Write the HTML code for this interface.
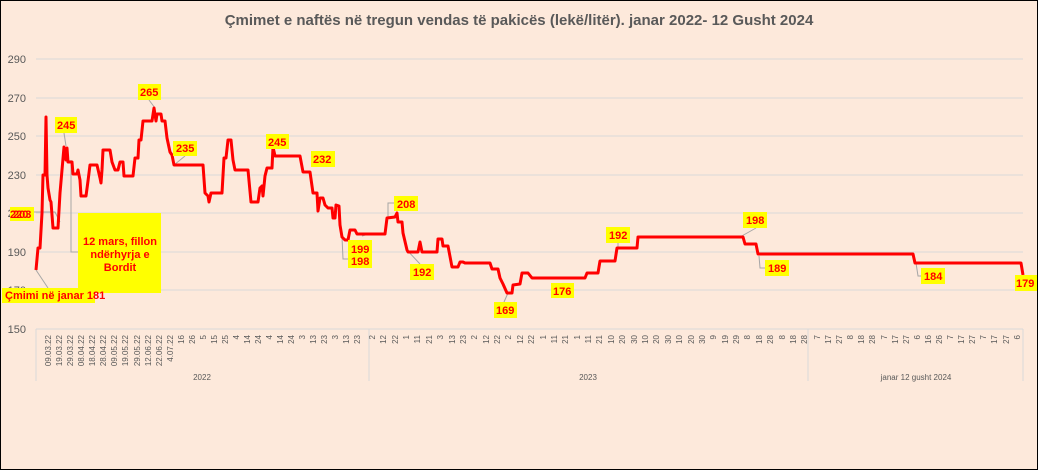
<!DOCTYPE html>
<html><head><meta charset="utf-8"><style>
html,body{margin:0;padding:0;background:#fde9db}
svg{display:block}
text{font-family:"Liberation Sans",sans-serif}
.t{font-size:8px;fill:#595959}
.y{font-size:11px;fill:#595959}
.l{font-size:11px;font-weight:bold;fill:#ff0000}
.b{fill:#ffff00}
</style></head><body>
<svg width="1038" height="470" viewBox="0 0 1038 470" xmlns="http://www.w3.org/2000/svg">
<rect x="0.5" y="0.5" width="1037" height="469" fill="#fde9db" stroke="#000" stroke-width="1"/>
<text x="519" y="25" text-anchor="middle" style="font-size:15px;font-weight:bold;fill:#595959">Çmimet e naftës në tregun vendas të pakicës (lekë/litër). janar 2022- 12 Gusht 2024</text>
<g stroke="#d9d9d9" stroke-width="1">
<line x1="36" y1="59" x2="1023" y2="59"/><line x1="36" y1="98" x2="1023" y2="98"/>
<line x1="36" y1="136" x2="1023" y2="136"/><line x1="36" y1="175" x2="1023" y2="175"/>
<line x1="36" y1="213" x2="1023" y2="213"/><line x1="36" y1="252" x2="1023" y2="252"/>
<line x1="36" y1="290" x2="1023" y2="290"/><line x1="36" y1="329" x2="1023" y2="329"/>
<line x1="36" y1="329" x2="36" y2="381"/><line x1="369" y1="329" x2="369" y2="381"/>
<line x1="808" y1="329" x2="808" y2="381"/><line x1="1023" y1="329" x2="1023" y2="381"/>
</g>
<g class="y" text-anchor="end">
<text x="26" y="63">290</text><text x="26" y="102">270</text><text x="26" y="140">250</text>
<text x="26" y="179">230</text><text x="26" y="217">210</text><text x="26" y="256">190</text>
<text x="26" y="294">170</text><text x="26" y="333">150</text>
</g>
<g class="t" text-anchor="end">
<text transform="translate(51,335) rotate(-90)">09.03.22</text>
<text transform="translate(62,335) rotate(-90)">19.03.22</text>
<text transform="translate(73,335) rotate(-90)">29.03.22</text>
<text transform="translate(84,335) rotate(-90)">08.04.22</text>
<text transform="translate(95,335) rotate(-90)">18.04.22</text>
<text transform="translate(106,335) rotate(-90)">28.04.22</text>
<text transform="translate(117,335) rotate(-90)">09.05.22</text>
<text transform="translate(128,335) rotate(-90)">19.05.22</text>
<text transform="translate(140,335) rotate(-90)">29.05.22</text>
<text transform="translate(151,335) rotate(-90)">12.06.22</text>
<text transform="translate(162,335) rotate(-90)">22.06.22</text>
<text transform="translate(173,335) rotate(-90)">4.07.22</text>
<text transform="translate(184,335) rotate(-90)">16</text>
<text transform="translate(195,335) rotate(-90)">26</text>
<text transform="translate(206,335) rotate(-90)">5</text>
<text transform="translate(217,335) rotate(-90)">15</text>
<text transform="translate(228,335) rotate(-90)">25</text>
<text transform="translate(239,335) rotate(-90)">4</text>
<text transform="translate(250,335) rotate(-90)">14</text>
<text transform="translate(261,335) rotate(-90)">24</text>
<text transform="translate(272,335) rotate(-90)">4</text>
<text transform="translate(283,335) rotate(-90)">14</text>
<text transform="translate(294,335) rotate(-90)">24</text>
<text transform="translate(305,335) rotate(-90)">3</text>
<text transform="translate(316,335) rotate(-90)">13</text>
<text transform="translate(327,335) rotate(-90)">23</text>
<text transform="translate(338,335) rotate(-90)">3</text>
<text transform="translate(349,335) rotate(-90)">13</text>
<text transform="translate(360,335) rotate(-90)">23</text>
<text transform="translate(375,335) rotate(-90)">2</text>
<text transform="translate(386,335) rotate(-90)">12</text>
<text transform="translate(398,335) rotate(-90)">22</text>
<text transform="translate(409,335) rotate(-90)">1</text>
<text transform="translate(420,335) rotate(-90)">11</text>
<text transform="translate(432,335) rotate(-90)">21</text>
<text transform="translate(443,335) rotate(-90)">3</text>
<text transform="translate(455,335) rotate(-90)">13</text>
<text transform="translate(466,335) rotate(-90)">23</text>
<text transform="translate(477,335) rotate(-90)">2</text>
<text transform="translate(489,335) rotate(-90)">12</text>
<text transform="translate(500,335) rotate(-90)">22</text>
<text transform="translate(511,335) rotate(-90)">2</text>
<text transform="translate(523,335) rotate(-90)">12</text>
<text transform="translate(534,335) rotate(-90)">22</text>
<text transform="translate(546,335) rotate(-90)">1</text>
<text transform="translate(557,335) rotate(-90)">11</text>
<text transform="translate(568,335) rotate(-90)">21</text>
<text transform="translate(580,335) rotate(-90)">1</text>
<text transform="translate(591,335) rotate(-90)">11</text>
<text transform="translate(602,335) rotate(-90)">21</text>
<text transform="translate(614,335) rotate(-90)">10</text>
<text transform="translate(625,335) rotate(-90)">20</text>
<text transform="translate(637,335) rotate(-90)">30</text>
<text transform="translate(648,335) rotate(-90)">10</text>
<text transform="translate(659,335) rotate(-90)">20</text>
<text transform="translate(671,335) rotate(-90)">30</text>
<text transform="translate(682,335) rotate(-90)">10</text>
<text transform="translate(694,335) rotate(-90)">20</text>
<text transform="translate(705,335) rotate(-90)">30</text>
<text transform="translate(716,335) rotate(-90)">9</text>
<text transform="translate(728,335) rotate(-90)">19</text>
<text transform="translate(739,335) rotate(-90)">29</text>
<text transform="translate(750,335) rotate(-90)">8</text>
<text transform="translate(762,335) rotate(-90)">18</text>
<text transform="translate(773,335) rotate(-90)">28</text>
<text transform="translate(785,335) rotate(-90)">8</text>
<text transform="translate(796,335) rotate(-90)">18</text>
<text transform="translate(807,335) rotate(-90)">28</text>
<text transform="translate(820,335) rotate(-90)">7</text>
<text transform="translate(831,335) rotate(-90)">17</text>
<text transform="translate(842,335) rotate(-90)">27</text>
<text transform="translate(853,335) rotate(-90)">8</text>
<text transform="translate(864,335) rotate(-90)">18</text>
<text transform="translate(875,335) rotate(-90)">28</text>
<text transform="translate(887,335) rotate(-90)">7</text>
<text transform="translate(898,335) rotate(-90)">17</text>
<text transform="translate(909,335) rotate(-90)">27</text>
<text transform="translate(920,335) rotate(-90)">6</text>
<text transform="translate(931,335) rotate(-90)">16</text>
<text transform="translate(942,335) rotate(-90)">26</text>
<text transform="translate(953,335) rotate(-90)">7</text>
<text transform="translate(964,335) rotate(-90)">17</text>
<text transform="translate(975,335) rotate(-90)">27</text>
<text transform="translate(986,335) rotate(-90)">7</text>
<text transform="translate(997,335) rotate(-90)">17</text>
<text transform="translate(1009,335) rotate(-90)">27</text>
<text transform="translate(1020,335) rotate(-90)">6</text>
</g>
<g class="t" text-anchor="middle">
<text x="202" y="380">2022</text><text x="588" y="380">2023</text><text x="916" y="380">janar 12 gusht 2024</text>
</g>
<!-- leader lines -->
<g stroke="#a6a6a6" stroke-width="1" fill="none">
<polyline points="36,270 48,288"/>
<polyline points="34,212 55,212 60,222"/>
<polyline points="66,146 64,133"/>
<polyline points="71,160 71,252 78,252"/>
<polyline points="155,108 149,100"/>
<polyline points="174,165 185,156"/>
<polyline points="342,237 343,259 348,259"/>
<polyline points="362,236 372,233"/>
<polyline points="388,218 388,203 394,203"/>
<polyline points="406,249 420,264"/>
<polyline points="508,293 504,302"/>
<polyline points="618,248 618,243"/>
<polyline points="740,237 756,228"/>
<polyline points="759,256 760,268 765,268"/>
<polyline points="916,263 918,276 921,276"/>
</g>
<polyline fill="none" stroke="#ff0000" stroke-width="3" stroke-linejoin="round" points="36,270 38,248 40,248 42,213 43,175 45,175 46,117 47,175 48,188 50,200 51,202 53,228 58,228 60,193 62,170 64,147 66,160 67,148 68,162 72,162 73,174 77,174 78,170 80,180 81,196 86,196 88,181 90,165 97,165 100,178 101,183 102,170 103,150 110,150 112,162 115,170 118,170 120,162 123,162 124,176 133,176 135,158 138,158 139,140 141,140 143,121 152,121 154,108 156,121 157,114 161,114 162,121 165,121 167,138 170,152 172,155 174,165 203,165 205,193 208,196 209,202 211,193 222,193 224,158 226,158 228,140 231,140 233,160 235,170 248,170 251,202 258,202 260,188 262,186 263,196 265,176 267,168 272,168 273,147 275,156 300,156 303,172 310,172 313,193 317,193 318,211 320,198 323,198 325,205 328,208 332,208 333,218 335,218 336,205 339,206 340,225 342,237 345,240 348,240 350,230 355,230 357,234 385,234 387,218 395,217 397,213 398,222 402,222 403,233 407,250 408,252 418,252 420,242 422,252 437,252 438,239 442,239 443,246 448,246 452,267 458,267 460,262 463,262 465,263 490,263 492,269 498,269 500,278 503,284 507,293 512,293 513,285 520,284 522,273 528,273 532,278 585,278 587,273 598,273 600,261 615,261 617,248 637,248 638,237 743,237 745,244 756,244 758,254 913,254 915,263 1021,263 1023,275"/>
<!-- labels -->
<rect class="b" x="78" y="213" width="83" height="80"/>
<text class="l" text-anchor="middle" x="120" y="245">12 mars, fillon</text>
<text class="l" text-anchor="middle" x="120" y="258">ndërhyrja e</text>
<text class="l" text-anchor="middle" x="120" y="271">Bordit</text>
<rect class="b" x="2" y="288" width="93" height="15"/>
<text class="l" x="5" y="299">Çmimi në janar 181</text>
<rect class="b" x="10" y="207" width="24" height="14"/>
<text class="l" x="10" y="218">220</text><text class="l" x="13" y="218">203</text>
<rect class="b" x="55" y="117" width="22" height="16"/><text class="l" x="57" y="129">245</text>
<rect class="b" x="138" y="84" width="23" height="16"/><text class="l" x="140" y="96">265</text>
<rect class="b" x="173" y="141" width="24" height="15"/><text class="l" x="176" y="152">235</text>
<rect class="b" x="266" y="134" width="23" height="15"/><text class="l" x="268" y="146">245</text>
<rect class="b" x="311" y="151" width="24" height="16"/><text class="l" x="313" y="163">232</text>
<rect class="b" x="348" y="240" width="24" height="28"/><text class="l" x="351" y="253">199</text><text class="l" x="351" y="265">198</text>
<rect class="b" x="394" y="196" width="24" height="15"/><text class="l" x="397" y="208">208</text>
<rect class="b" x="410" y="264" width="24" height="16"/><text class="l" x="413" y="276">192</text>
<rect class="b" x="494" y="302" width="23" height="16"/><text class="l" x="496" y="314">169</text>
<rect class="b" x="551" y="283" width="23" height="15"/><text class="l" x="553" y="295">176</text>
<rect class="b" x="606" y="227" width="24" height="16"/><text class="l" x="609" y="239">192</text>
<rect class="b" x="743" y="212" width="24" height="16"/><text class="l" x="746" y="224">198</text>
<rect class="b" x="765" y="260" width="24" height="16"/><text class="l" x="768" y="272">189</text>
<rect class="b" x="921" y="268" width="24" height="16"/><text class="l" x="924" y="280">184</text>
<rect class="b" x="1015" y="275" width="22" height="16"/><text class="l" x="1016" y="287">179</text>
</svg>
</body></html>
